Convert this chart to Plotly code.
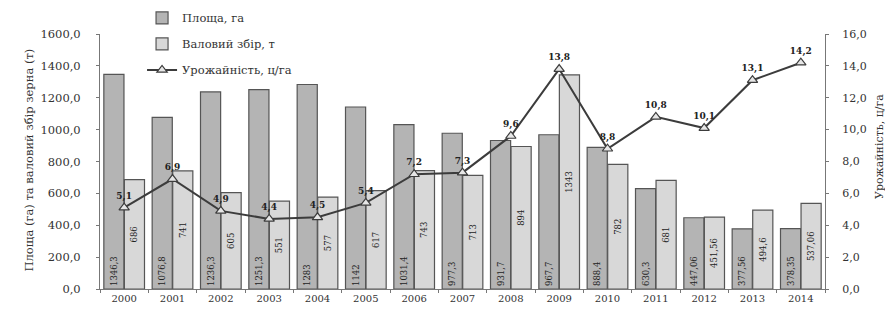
import plotly.graph_objects as go

years = ["2000", "2001", "2002", "2003", "2004", "2005", "2006", "2007",
         "2008", "2009", "2010", "2011", "2012", "2013", "2014"]
area = [1346.3, 1076.8, 1236.3, 1251.3, 1283.0, 1142.0, 1031.4, 977.3,
        931.7, 967.7, 888.4, 630.3, 447.06, 377.56, 378.35]
area_lbl = ["1346,3", "1076,8", "1236,3", "1251,3", "1283", "1142", "1031,4", "977,3",
            "931,7", "967,7", "888,4", "630,3", "447,06", "377,56", "378,35"]
harvest = [686, 741, 605, 551, 577, 617, 743, 713, 894, 1343, 782, 681, 451.56, 494.6, 537.06]
harvest_lbl = ["686", "741", "605", "551", "577", "617", "743", "713", "894", "1343",
               "782", "681", "451,56", "494,6", "537,06"]
yld = [5.1, 6.9, 4.9, 4.4, 4.5, 5.4, 7.2, 7.3, 9.6, 13.8, 8.8, 10.8, 10.1, 13.1, 14.2]
yld_lbl = ["5,1", "6,9", "4,9", "4,4", "4,5", "5,4", "7,2", "7,3", "9,6", "13,8",
           "8,8", "10,8", "10,1", "13,1", "14,2"]

left_ticks = [0, 200, 400, 600, 800, 1000, 1200, 1400, 1600]
left_tick_text = ["0,0", "200,0", "400,0", "600,0", "800,0", "1000,0", "1200,0", "1400,0", "1600,0"]
right_ticks = [0, 2, 4, 6, 8, 10, 12, 14, 16]
right_tick_text = ["0,0", "2,0", "4,0", "6,0", "8,0", "10,0", "12,0", "14,0", "16,0"]
left_title = "Площа (га) та валовий збір зерна (т)"
right_title = "Урожайність, ц/га"

FONT = "DejaVu Serif"

fig = go.Figure()
fig.add_trace(go.Bar(
    x=years, y=area, name="Площа, га", legendgroup="a",
    marker=dict(color="#b4b4b4", line=dict(color="#555555", width=1.2)),
    text=area_lbl, textposition="inside", insidetextanchor="start", textangle=-90,
    textfont=dict(family=FONT, size=8.5, color="#222222"),
))
fig.add_trace(go.Bar(
    x=years, y=harvest, name="Валовий збір, т", legendgroup="b",
    marker=dict(color="#d8d8d8", line=dict(color="#555555", width=1.2)),
    text=harvest_lbl, textposition="inside", insidetextanchor="middle", textangle=-90,
    textfont=dict(family=FONT, size=8.5, color="#222222"),
))
fig.add_trace(go.Scatter(
    x=years, y=yld, name="Урожайність, ц/га", yaxis="y2", legendgroup="c",
    mode="lines+markers+text",
    line=dict(color="#3c3c3c", width=2),
    marker=dict(symbol="triangle-up", size=9, color="#e6e6e6", line=dict(color="#3c3c3c", width=1.2)),
    text=["<b>" + t + "</b>" for t in yld_lbl], textposition="top center",
    textfont=dict(family=FONT, size=9, color="#222222"),
))

fig.update_layout(
    width=893, height=316,
    margin=dict(l=92, r=76, t=26, b=35, autoexpand=False),
    paper_bgcolor="white", plot_bgcolor="white",
    barmode="group", bargap=0.15, bargroupgap=0.02,
    font=dict(family=FONT, size=10, color="#333333"),
    showlegend=True,
    legend=dict(x=0.058, y=1.12, xanchor="left", yanchor="top",
                bgcolor="rgba(255,255,255,0)", font=dict(family=FONT, size=11.5),
                traceorder="grouped", tracegroupgap=7, itemwidth=30),
    xaxis=dict(type="category", range=[-0.5, 14.5], showline=True, linecolor="#777777",
               ticks="outside", tickson="boundaries", ticklen=3, tickcolor="#777777",
               tickfont=dict(family=FONT, size=10), showgrid=False),
    yaxis=dict(range=[0, 1600], tickvals=left_ticks, ticktext=left_tick_text,
               showline=True, linecolor="#777777", ticks="outside", ticklen=3,
               tickcolor="#777777", showgrid=False, zeroline=False,
               ticklabelstandoff=13,
               tickfont=dict(family=FONT, size=11.5)),
    yaxis2=dict(range=[0, 16], tickvals=right_ticks, ticktext=right_tick_text,
                overlaying="y", side="right", showline=True, linecolor="#777777",
                ticks="outside", ticklen=3, tickcolor="#777777", showgrid=False,
                zeroline=False, ticklabelstandoff=11,
                tickfont=dict(family=FONT, size=11)),
    annotations=[
        dict(text=left_title, xref="paper", yref="paper", x=-0.11, y=0.505,
             textangle=-90, showarrow=False, font=dict(family=FONT, size=11.5, color="#333333")),
        dict(text=right_title, xref="paper", yref="paper", x=1.086, y=0.56,
             textangle=-90, showarrow=False, font=dict(family=FONT, size=11, color="#333333")),
    ],
)

fig.write_html("out.html")
